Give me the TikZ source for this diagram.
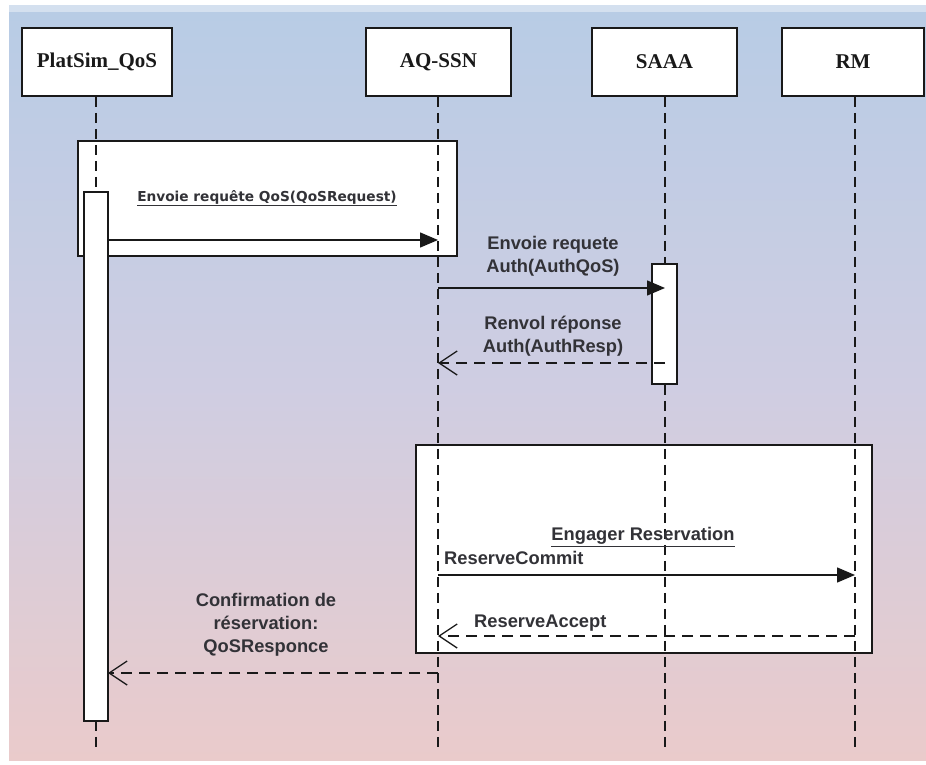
\documentclass[tikz,border=0pt]{standalone}
\usepackage{fontspec}
\setmainfont{Liberation Serif}
\newfontfamily\lsans{Liberation Sans}
\newfontfamily\dsans{DejaVu Sans}
\usetikzlibrary{arrows.meta}
\definecolor{bgtop}{RGB}{184,204,229}
\definecolor{bgmid}{RGB}{207,205,226}
\definecolor{bgbot}{RGB}{234,203,203}
\definecolor{inkc}{RGB}{25,25,25}
\definecolor{txtc}{RGB}{50,50,55}
\tikzset{
  head/.style={draw=inkc, line width=1.8pt, fill=white, inner sep=0pt,
    font=\fontsize{21}{23}\selectfont\bfseries, text=inkc},
  frm/.style={draw=inkc, line width=1.5pt, fill=white, inner sep=0pt},
  act/.style={draw=inkc, line width=1.5pt, fill=white, inner sep=0pt, minimum width=24pt},
  life/.style={draw=inkc, line width=1.4pt, dash pattern=on 10pt off 6pt},
  syncmsg/.style={draw=inkc, line width=1.4pt, -{Triangle[length=18pt,width=15pt]}},
  retmsg/.style={draw=inkc, line width=1.4pt, dash pattern=on 11pt off 7pt,
    -{Straight Barb[length=18pt,width=24pt,line width=1.3pt]}},
  lbl/.style={font=\lsans\fontsize{18.3}{23}\selectfont\bfseries, text=txtc, align=center, inner sep=0pt},
  ulbl/.style={font=\dsans\fontsize{13.7}{16}\selectfont\bfseries, text=txtc, inner sep=0pt},
}
\begin{document}
\begin{tikzpicture}[x=1pt,y=-1pt]
\useasboundingbox (0,0) rectangle (926,764);
\fill[white] (0,0) rectangle (926,764);
\shade[top color=bgtop, bottom color=bgbot, middle color=bgmid] (9,12) rectangle (926,760);
\fill[bgtop!60!white] (9,5) rectangle (926,12);

% headers
\node[head, minimum width=150pt, minimum height=68pt] (p) at (97,62) {PlatSim\_QoS};
\node[head, minimum width=145pt, minimum height=68pt] (q) at (438.5,62) {AQ-SSN};
\node[head, minimum width=145pt, minimum height=68pt] (s) at (664.5,62) {SAAA};
\node[head, minimum width=142pt, minimum height=68pt] (r) at (853,62) {RM};

% frames
\node[frm, minimum width=379pt, minimum height=115pt] (f1) at (267.5,198.5) {};
\node[frm, minimum width=456pt, minimum height=208pt] (f2) at (644,549) {};

% lifeline ends
\coordinate (pe) at (96,752);
\coordinate (qe) at (438,752);
\coordinate (se) at (665,752);
\coordinate (re) at (855,752);
\draw[life] (p.south -| pe) -- (pe);
\draw[life] (q.south -| qe) -- (qe);
\draw[life] (s.south -| se) -- (se);
\draw[life] (r.south -| re) -- (re);

% activations
\node[act, minimum height=529pt] (a1) at (96,456.5) {};
\node[act, minimum width=25pt, minimum height=120pt] (a2) at (664.5,324) {};

% message end points
\coordinate (m1s) at (108,240);  \coordinate (m1e) at (438,240);
\coordinate (m2s) at (438,288);  \coordinate (m2e) at (665,288);
\coordinate (m3s) at (665,363);  \coordinate (m3e) at (438,363);
\coordinate (m4s) at (438,575);  \coordinate (m4e) at (855,575);
\coordinate (m5s) at (855,636);  \coordinate (m5e) at (438,636);
\coordinate (m6s) at (438,673);  \coordinate (m6e) at (108,673);

\draw[syncmsg] (m1s) -- (m1e);
\draw[syncmsg] (m2s) -- (m2e);
\draw[retmsg] (m3s) -- (m3e);
\draw[syncmsg] (m4s) -- (m4e);
\draw[retmsg] (m5s) -- (m5e);
\draw[retmsg] (m6s) -- (m6e);

% labels
\node[ulbl] (t1) at (267,198) {\underline{Envoie requête QoS(QoSRequest)}};
\node[lbl] (t2) at (553,256) {Envoie requete\\Auth(AuthQoS)};
\node[lbl] (t3) at (553,336) {Renvol réponse\\Auth(AuthResp)};
\node[lbl] (t4) at (643,537) {\underline{Engager Reservation}};
\node[lbl, anchor=west] (t5) at (444,558) {ReserveCommit};
\node[lbl, anchor=west] (t6) at (474,623) {ReserveAccept};
\node[lbl] (t7) at (266,625) {Confirmation de\\réservation:\\QoSResponce};
\end{tikzpicture}
\end{document}
